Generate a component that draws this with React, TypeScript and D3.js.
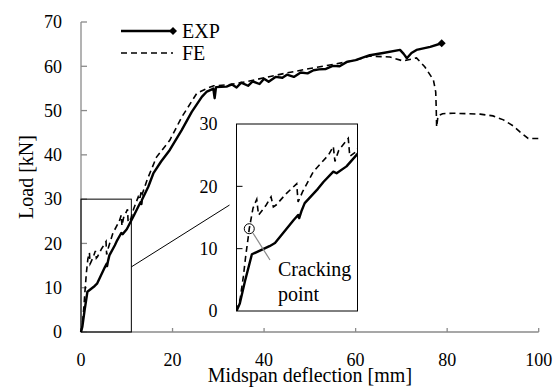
import * as d3 from 'd3';

// axis ticks
const X_TICKS = [0, 20, 40, 60, 80, 100];
const Y_TICKS = [0, 10, 20, 30, 40, 50, 60, 70];
const INSET_Y_TICKS = [0, 10, 20, 30];

// experiment: midspan deflection [mm] / load [kN]
const expDefl = [
  0, 0.3, 0.8, 1.4, 3.0, 3.5, 5.2, 5.6, 5.7, 5.9, 6.2, 7.4, 7.9, 8.8, 9.1, 10.0, 10.9,
  11.5, 12.5, 13.0, 13.2, 13.3, 14.7, 15.8, 17.5, 19.4, 22.0, 24.2, 26.4, 27.5, 28.6,
  28.9, 29.2, 29.5, 31.8, 33.0, 34.0, 35.0, 36.5, 37.5, 39.0, 40.0, 41.0, 42.5, 44.0,
  45.0, 46.5, 48.0, 49.5, 50.8, 52.0, 53.5, 55.0, 56.5, 58.1, 60.0, 62.0, 63.1, 66.0,
  69.7, 70.5, 71.2, 72.2, 73.3, 76.3, 78.8,
];
const expLoad = [
  0, 1.2, 5.0, 9.1, 10.4, 10.9, 14.6, 15.4, 14.9, 16.0, 17.3, 19.6, 20.7, 22.35, 22.1, 23.2, 25.0,
  26.2, 28.3, 29.3, 28.9, 29.8, 32.8, 35.8, 38.5, 41.1, 45.6, 49.7, 53.1, 54.3, 54.8,
  55.0, 52.8, 55.3, 55.4, 55.9, 55.2, 56.3, 55.6, 56.6, 56.0, 57.2, 56.5, 57.6, 57.4,
  58.1, 57.6, 58.6, 58.4, 59.1, 59.3, 59.4, 60.1, 60.0, 61.0, 61.4, 62.1, 62.5, 63.0,
  63.7, 62.8, 61.8, 63.0, 63.7, 64.4, 65.2,
];

// finite element model
const feDefl = [
  0, 0.32, 0.62, 0.83, 1.07, 1.16, 1.5, 1.84, 2.0, 2.1, 2.7, 3.14, 3.35, 3.6, 4.5, 5.47,
  5.6, 6.0, 6.98, 8.35, 8.8, 8.95, 9.3, 10.16, 10.3, 10.9, 11.5, 12.5, 12.8, 13.2, 13.4,
  14.5, 16.5, 19.4, 22.0, 25.3, 27.5, 29.0, 32.0, 36.0, 40.0, 45.0, 50.0, 55.0, 60.0,
  63.1, 67.5, 70.4, 73.3, 75.1, 77.0, 77.5, 77.6, 77.7, 78.0, 79.0, 81.3, 87.2, 90.0,
  92.3, 94.5, 95.9, 97.7, 100.3,
];
const feLoad = [
  0, 1.8, 5.5, 8.7, 11.9, 13.2, 16.5, 17.9, 15.4, 15.6, 17.0, 18.3, 16.7, 17.0, 18.8, 20.4,
  17.5, 19.1, 22.35, 25.0, 26.4, 24.0, 25.8, 27.7, 24.8, 25.6, 27.8, 30.5, 29.8, 32.0, 31.2,
  34.5, 39.5, 43.3, 48.5, 53.9, 55.0, 55.6, 55.8, 56.5, 57.4, 58.5, 59.5, 60.4, 61.4,
  62.3, 62.1, 61.2, 61.9, 59.9, 56.9, 54.2, 50.9, 46.3, 48.8, 49.3, 49.4, 49.2, 48.8,
  47.9, 46.5, 45.2, 43.7, 43.7,
];

// zoomed window and cracking point
const ZOOM_DEFL = [0, 11];
const ZOOM_LOAD = [0, 30];
const CRACK = [1.16, 13.2];

const FONT = '"Liberation Serif", "Times New Roman", serif';

type Pt = [number, number];
const expPts: Pt[] = expDefl.map((d, i) => [d, expLoad[i]]);
const fePts: Pt[] = feDefl.map((d, i) => [d, feLoad[i]]);

export default function App() {
  const W = 556, H = 389;
  const x = d3.scaleLinear().domain([0, 100]).range([81, 538.7]);
  const y = d3.scaleLinear().domain([0, 70]).range([332, 22]);
  const ix = d3.scaleLinear().domain(ZOOM_DEFL).range([236.5, 357.5]);
  const iy = d3.scaleLinear().domain(ZOOM_LOAD).range([311, 124]);

  const line = d3.line<Pt>().x(d => x(d[0])).y(d => y(d[1]));
  const iline = d3.line<Pt>().x(d => ix(d[0])).y(d => iy(d[1]));

  const grey = '#8a8a8a';
  const last = expPts[expPts.length - 1];
  const diamond = (cx: number, cy: number, r: number) =>
    `M${cx},${cy - r}L${cx + r},${cy}L${cx},${cy + r}L${cx - r},${cy}Z`;

  return (
    <svg width={W} height={H} style={{ position: 'absolute', left: 0, top: 0, background: '#fff' }}
      fontFamily={FONT}>
      <defs>
        <clipPath id="inset-clip">
          <rect x={ix(0)} y={iy(30)} width={ix(11) - ix(0)} height={iy(0) - iy(30)} />
        </clipPath>
      </defs>

      {/* main axes */}
      <line x1={x(0)} x2={x(100)} y1={y(0)} y2={y(0)} stroke={grey} strokeWidth={1.3} />
      <line x1={x(0)} x2={x(0)} y1={y(0)} y2={y(70)} stroke={grey} strokeWidth={1.3} />
      {X_TICKS.map(t => (
        <g key={'x' + t}>
          <line x1={x(t)} x2={x(t)} y1={y(0)} y2={y(0) - 4} stroke={grey} strokeWidth={1.3} />
          <text x={x(t)} y={y(0) + 34} textAnchor="middle" fontSize={18}>{t}</text>
        </g>
      ))}
      {Y_TICKS.map(t => (
        <g key={'y' + t}>
          <line x1={x(0)} x2={x(0) + 6} y1={y(t)} y2={y(t)} stroke={grey} strokeWidth={1.3} />
          <text x={x(0) - 19} y={y(t)} dy="0.35em" textAnchor="end" fontSize={18}>{t}</text>
        </g>
      ))}
      <text x={(x(0) + x(100)) / 2} y={382} textAnchor="middle" fontSize={20}>Midspan deflection [mm]</text>
      <text transform={`translate(33,${(y(0) + y(70)) / 2}) rotate(-90)`} textAnchor="middle" fontSize={20}>Load [kN]</text>

      {/* zoom window and connector */}
      <rect x={x(ZOOM_DEFL[0])} y={y(ZOOM_LOAD[1])} width={x(ZOOM_DEFL[1]) - x(ZOOM_DEFL[0])}
        height={y(ZOOM_LOAD[0]) - y(ZOOM_LOAD[1])} fill="none" stroke="#000" strokeWidth={1} />
      <line x1={x(ZOOM_DEFL[1])} y1={y(14.7)} x2={ix(0) - 7} y2={iy(17)} stroke="#000" strokeWidth={1} />

      {/* main curves */}
      <path d={line(fePts) ?? ''} fill="none" stroke="#000" strokeWidth={1.6} strokeDasharray="6,4" />
      <path d={line(expPts) ?? ''} fill="none" stroke="#000" strokeWidth={2.4} strokeLinejoin="round" />
      <path d={diamond(x(last[0]), y(last[1]), 4)} fill="#000" />

      {/* legend */}
      <line x1={121} x2={173} y1={31} y2={31} stroke="#000" strokeWidth={2.4} />
      <path d={diamond(173, 31, 4)} fill="#000" />
      <text x={182} y={38} fontSize={20}>EXP</text>
      <line x1={121} x2={173} y1={53} y2={53} stroke="#000" strokeWidth={1.6} strokeDasharray="6,4" />
      <text x={182} y={60} fontSize={20}>FE</text>

      {/* inset */}
      <rect x={ix(0)} y={iy(30)} width={ix(11) - ix(0)} height={iy(0) - iy(30)} fill="#fff" stroke="#000" strokeWidth={1} />
      {INSET_Y_TICKS.map(t => (
        <g key={'iy' + t}>
          {t > 0 && t < 30 && <line x1={ix(0)} x2={ix(0) + 6} y1={iy(t)} y2={iy(t)} stroke="#000" strokeWidth={1} />}
          <text x={ix(0) - 19} y={iy(t)} dy="0.35em" textAnchor="end" fontSize={18}>{t}</text>
        </g>
      ))}
      <g clipPath="url(#inset-clip)">
        <path d={iline(fePts) ?? ''} fill="none" stroke="#000" strokeWidth={1.6} strokeDasharray="6,4" />
        <path d={iline(expPts) ?? ''} fill="none" stroke="#000" strokeWidth={2.4} strokeLinejoin="round" />
      </g>
      <circle cx={ix(CRACK[0])} cy={iy(CRACK[1])} r={5} fill="none" stroke="#000" strokeWidth={1} />
      <line x1={ix(CRACK[0]) + 3.5} y1={iy(CRACK[1]) + 4} x2={270} y2={260} stroke={grey} strokeWidth={1.2} />
      <text x={278} y={276} fontSize={20}>Cracking</text>
      <text x={278} y={301} fontSize={20}>point</text>
    </svg>
  );
}
